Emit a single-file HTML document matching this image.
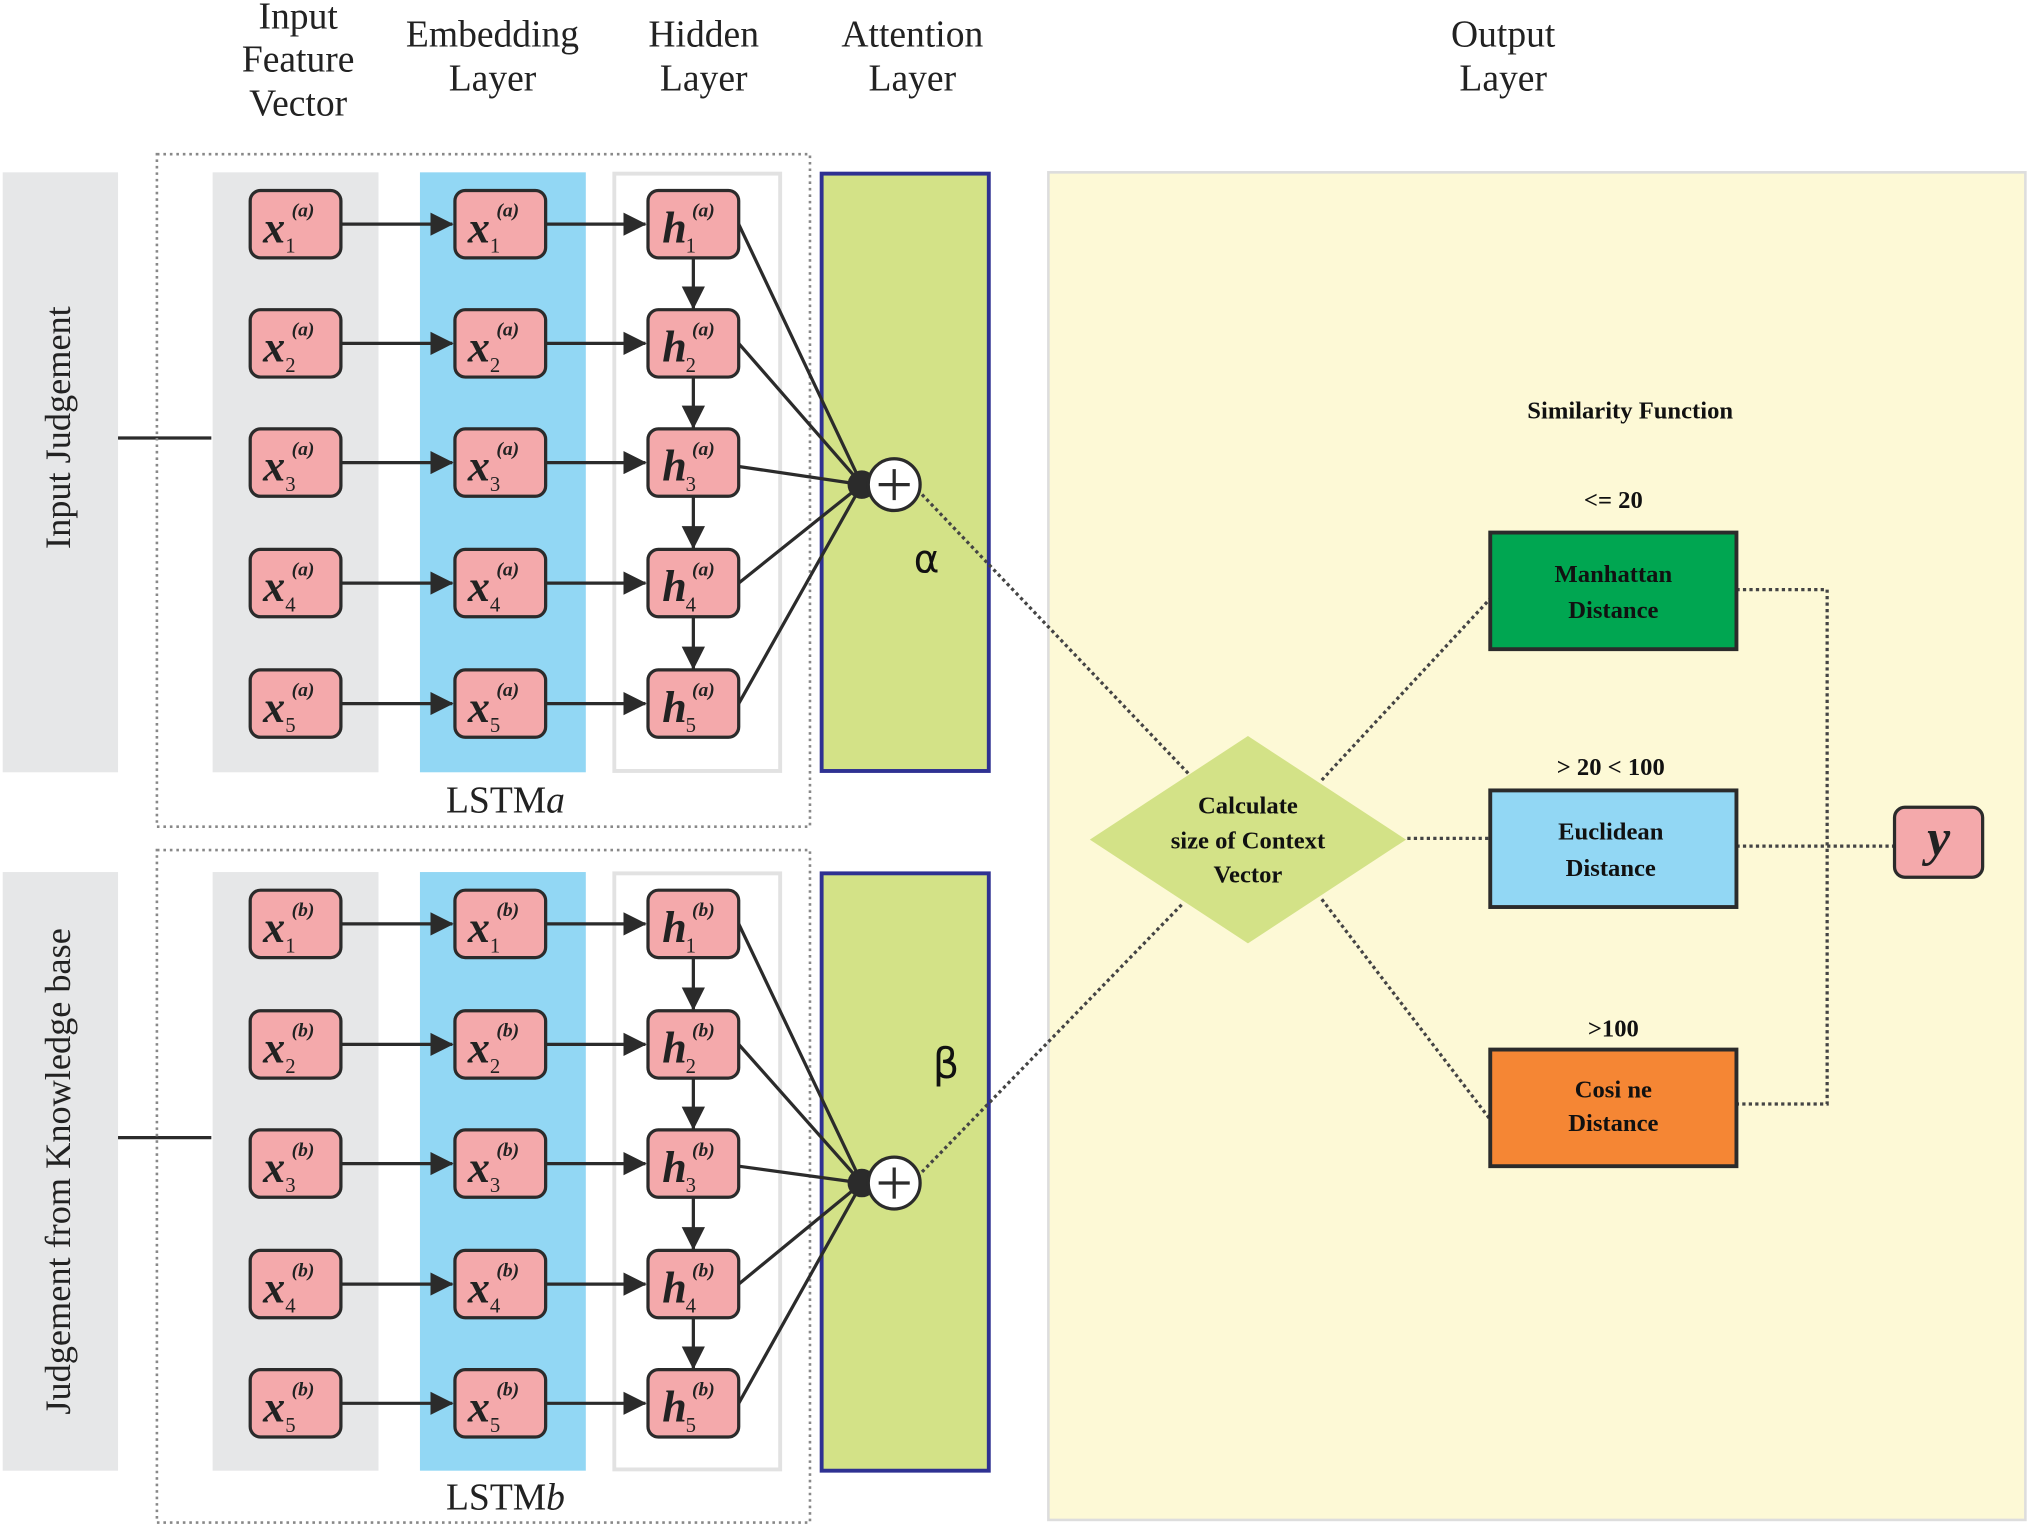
<!DOCTYPE html>
<html><head><meta charset="utf-8"><style>
html,body{margin:0;padding:0;background:#fff;}
svg{display:block;}
.h{font-family:"Liberation Serif",serif;font-size:29px;fill:#222;text-anchor:middle;}
.v{font-family:"Liberation Serif",serif;font-style:italic;font-weight:bold;font-size:34px;fill:#222;}
.s{font-family:"Liberation Serif",serif;font-size:16px;fill:#222;}
.p{font-family:"Liberation Serif",serif;font-style:italic;font-weight:bold;font-size:15px;fill:#222;}
.b{font-family:"Liberation Serif",serif;font-weight:bold;font-size:19px;fill:#111;text-anchor:middle;}
.bx{fill:#f4a9ab;stroke:#2b2b2b;stroke-width:2.5;}
.ln{stroke:#2b2b2b;stroke-width:2.5;fill:none;}
.dt{stroke:#444;stroke-width:2.5;stroke-dasharray:2.5 2.5;fill:none;}
.dd{stroke:#888;stroke-width:2;stroke-dasharray:2 3;fill:none;}
</style></head><body>
<svg width="2032" height="1529" viewBox="0 0 1568 1180" xmlns="http://www.w3.org/2000/svg">
<defs>
<marker id="ar" markerWidth="10" markerHeight="10" refX="9" refY="5" orient="auto" markerUnits="userSpaceOnUse" viewBox="0 0 10 10"><path d="M0,0 L10,5 L0,10 z" fill="#2b2b2b"/></marker>
<marker id="ar2" markerWidth="18" markerHeight="18" refX="17" refY="9" orient="auto" markerUnits="userSpaceOnUse" viewBox="0 0 18 18"><path d="M0,0 L18,9 L0,18 z" fill="#2b2b2b"/></marker>
</defs>
<!-- headers -->
<text class="h" x="230" y="22">Input</text>
<text class="h" x="230" y="55">Feature</text>
<text class="h" x="230" y="89">Vector</text>
<text class="h" x="380" y="36">Embedding</text>
<text class="h" x="380" y="70">Layer</text>
<text class="h" x="543" y="36">Hidden</text>
<text class="h" x="543" y="70">Layer</text>
<text class="h" x="704" y="36">Attention</text>
<text class="h" x="704" y="70">Layer</text>
<text class="h" x="1160" y="36">Output</text>
<text class="h" x="1160" y="70">Layer</text>

<!-- output region -->
<rect x="809" y="133" width="754" height="1040" fill="#fdf9d6" stroke="#ddd" stroke-width="2"/>

<!-- top block -->
<rect x="2" y="133" width="89" height="463" fill="#e6e7e8"/>
<text class="h" transform="translate(54,330) rotate(-90)" style="font-size:28px">Input Judgement</text>
<line x1="91" y1="338" x2="163" y2="338" class="ln"/>
<rect x="121" y="119" width="504" height="519" class="dd"/>
<rect x="164" y="133" width="128" height="463" fill="#e6e7e8"/>
<rect x="324" y="133" width="128" height="463" fill="#92d7f4"/>
<rect x="474" y="134" width="128" height="461" fill="#fff" stroke="#e2e2e2" stroke-width="3"/>
<rect x="634" y="134" width="129" height="461" fill="#d3e287" stroke="#2e3192" stroke-width="3"/>
<text class="h" x="390" y="627">LSTM<tspan font-style="italic">a</tspan></text>

<!-- bottom block -->
<rect x="2" y="673" width="89" height="462" fill="#e6e7e8"/>
<text class="h" transform="translate(54,904) rotate(-90)" style="font-size:28px">Judgement from Knowledge base</text>
<line x1="91" y1="878" x2="163" y2="878" class="ln"/>
<rect x="121" y="656" width="504" height="519" class="dd"/>
<rect x="164" y="673" width="128" height="462" fill="#e6e7e8"/>
<rect x="324" y="673" width="128" height="462" fill="#92d7f4"/>
<rect x="474" y="674" width="128" height="460" fill="#fff" stroke="#e2e2e2" stroke-width="3"/>
<rect x="634" y="674" width="129" height="461" fill="#d3e287" stroke="#2e3192" stroke-width="3"/>
<text class="h" x="390" y="1165">LSTM<tspan font-style="italic">b</tspan></text>

<!-- connectors top -->
<g>
<line x1="263" y1="173" x2="349" y2="173" class="ln" marker-end="url(#ar2)"/>
<line x1="420" y1="173" x2="498" y2="173" class="ln" marker-end="url(#ar2)"/>
<line x1="263" y1="265" x2="349" y2="265" class="ln" marker-end="url(#ar2)"/>
<line x1="420" y1="265" x2="498" y2="265" class="ln" marker-end="url(#ar2)"/>
<line x1="263" y1="357" x2="349" y2="357" class="ln" marker-end="url(#ar2)"/>
<line x1="420" y1="357" x2="498" y2="357" class="ln" marker-end="url(#ar2)"/>
<line x1="263" y1="450" x2="349" y2="450" class="ln" marker-end="url(#ar2)"/>
<line x1="420" y1="450" x2="498" y2="450" class="ln" marker-end="url(#ar2)"/>
<line x1="263" y1="543" x2="349" y2="543" class="ln" marker-end="url(#ar2)"/>
<line x1="420" y1="543" x2="498" y2="543" class="ln" marker-end="url(#ar2)"/>
<line x1="535" y1="199" x2="535" y2="238" class="ln" marker-end="url(#ar2)"/>
<line x1="535" y1="291" x2="535" y2="330" class="ln" marker-end="url(#ar2)"/>
<line x1="535" y1="383" x2="535" y2="423" class="ln" marker-end="url(#ar2)"/>
<line x1="535" y1="476" x2="535" y2="516" class="ln" marker-end="url(#ar2)"/>
<line x1="570" y1="173" x2="665" y2="374" class="ln"/>
<line x1="570" y1="265" x2="665" y2="374" class="ln"/>
<line x1="570" y1="360" x2="665" y2="374" class="ln"/>
<line x1="570" y1="450" x2="665" y2="374" class="ln"/>
<line x1="570" y1="543" x2="665" y2="374" class="ln"/>
</g>
<!-- connectors bottom -->
<g>
<line x1="263" y1="713" x2="349" y2="713" class="ln" marker-end="url(#ar2)"/>
<line x1="420" y1="713" x2="498" y2="713" class="ln" marker-end="url(#ar2)"/>
<line x1="263" y1="806" x2="349" y2="806" class="ln" marker-end="url(#ar2)"/>
<line x1="420" y1="806" x2="498" y2="806" class="ln" marker-end="url(#ar2)"/>
<line x1="263" y1="898" x2="349" y2="898" class="ln" marker-end="url(#ar2)"/>
<line x1="420" y1="898" x2="498" y2="898" class="ln" marker-end="url(#ar2)"/>
<line x1="263" y1="991" x2="349" y2="991" class="ln" marker-end="url(#ar2)"/>
<line x1="420" y1="991" x2="498" y2="991" class="ln" marker-end="url(#ar2)"/>
<line x1="263" y1="1083" x2="349" y2="1083" class="ln" marker-end="url(#ar2)"/>
<line x1="420" y1="1083" x2="498" y2="1083" class="ln" marker-end="url(#ar2)"/>
<line x1="535" y1="739" x2="535" y2="779" class="ln" marker-end="url(#ar2)"/>
<line x1="535" y1="832" x2="535" y2="871" class="ln" marker-end="url(#ar2)"/>
<line x1="535" y1="924" x2="535" y2="964" class="ln" marker-end="url(#ar2)"/>
<line x1="535" y1="1017" x2="535" y2="1056" class="ln" marker-end="url(#ar2)"/>
<line x1="570" y1="713" x2="665" y2="913" class="ln"/>
<line x1="570" y1="806" x2="665" y2="913" class="ln"/>
<line x1="570" y1="900" x2="665" y2="913" class="ln"/>
<line x1="570" y1="991" x2="665" y2="913" class="ln"/>
<line x1="570" y1="1083" x2="665" y2="913" class="ln"/>
</g>

<!-- boxes top -->
<g id="boxes">
<g transform="translate(193,173)"><rect class="bx" x="0" y="-26" width="70" height="52" rx="8"/><text class="v" x="10" y="14">x</text><text class="s" x="27" y="22">1</text><text class="p" x="32" y="-6">(a)</text></g>
<g transform="translate(351,173)"><rect class="bx" x="0" y="-26" width="70" height="52" rx="8"/><text class="v" x="10" y="14">x</text><text class="s" x="27" y="22">1</text><text class="p" x="32" y="-6">(a)</text></g>
<g transform="translate(500,173)"><rect class="bx" x="0" y="-26" width="70" height="52" rx="8"/><text class="v" x="11" y="14">h</text><text class="s" x="29" y="22">1</text><text class="p" x="34" y="-6">(a)</text></g>
<g transform="translate(193,265)"><rect class="bx" x="0" y="-26" width="70" height="52" rx="8"/><text class="v" x="10" y="14">x</text><text class="s" x="27" y="22">2</text><text class="p" x="32" y="-6">(a)</text></g>
<g transform="translate(351,265)"><rect class="bx" x="0" y="-26" width="70" height="52" rx="8"/><text class="v" x="10" y="14">x</text><text class="s" x="27" y="22">2</text><text class="p" x="32" y="-6">(a)</text></g>
<g transform="translate(500,265)"><rect class="bx" x="0" y="-26" width="70" height="52" rx="8"/><text class="v" x="11" y="14">h</text><text class="s" x="29" y="22">2</text><text class="p" x="34" y="-6">(a)</text></g>
<g transform="translate(193,357)"><rect class="bx" x="0" y="-26" width="70" height="52" rx="8"/><text class="v" x="10" y="14">x</text><text class="s" x="27" y="22">3</text><text class="p" x="32" y="-6">(a)</text></g>
<g transform="translate(351,357)"><rect class="bx" x="0" y="-26" width="70" height="52" rx="8"/><text class="v" x="10" y="14">x</text><text class="s" x="27" y="22">3</text><text class="p" x="32" y="-6">(a)</text></g>
<g transform="translate(500,357)"><rect class="bx" x="0" y="-26" width="70" height="52" rx="8"/><text class="v" x="11" y="14">h</text><text class="s" x="29" y="22">3</text><text class="p" x="34" y="-6">(a)</text></g>
<g transform="translate(193,450)"><rect class="bx" x="0" y="-26" width="70" height="52" rx="8"/><text class="v" x="10" y="14">x</text><text class="s" x="27" y="22">4</text><text class="p" x="32" y="-6">(a)</text></g>
<g transform="translate(351,450)"><rect class="bx" x="0" y="-26" width="70" height="52" rx="8"/><text class="v" x="10" y="14">x</text><text class="s" x="27" y="22">4</text><text class="p" x="32" y="-6">(a)</text></g>
<g transform="translate(500,450)"><rect class="bx" x="0" y="-26" width="70" height="52" rx="8"/><text class="v" x="11" y="14">h</text><text class="s" x="29" y="22">4</text><text class="p" x="34" y="-6">(a)</text></g>
<g transform="translate(193,543)"><rect class="bx" x="0" y="-26" width="70" height="52" rx="8"/><text class="v" x="10" y="14">x</text><text class="s" x="27" y="22">5</text><text class="p" x="32" y="-6">(a)</text></g>
<g transform="translate(351,543)"><rect class="bx" x="0" y="-26" width="70" height="52" rx="8"/><text class="v" x="10" y="14">x</text><text class="s" x="27" y="22">5</text><text class="p" x="32" y="-6">(a)</text></g>
<g transform="translate(500,543)"><rect class="bx" x="0" y="-26" width="70" height="52" rx="8"/><text class="v" x="11" y="14">h</text><text class="s" x="29" y="22">5</text><text class="p" x="34" y="-6">(a)</text></g>
</g>
<!-- boxes bottom -->
<g>
<g transform="translate(193,713)"><rect class="bx" x="0" y="-26" width="70" height="52" rx="8"/><text class="v" x="10" y="14">x</text><text class="s" x="27" y="22">1</text><text class="p" x="32" y="-6">(b)</text></g>
<g transform="translate(351,713)"><rect class="bx" x="0" y="-26" width="70" height="52" rx="8"/><text class="v" x="10" y="14">x</text><text class="s" x="27" y="22">1</text><text class="p" x="32" y="-6">(b)</text></g>
<g transform="translate(500,713)"><rect class="bx" x="0" y="-26" width="70" height="52" rx="8"/><text class="v" x="11" y="14">h</text><text class="s" x="29" y="22">1</text><text class="p" x="34" y="-6">(b)</text></g>
<g transform="translate(193,806)"><rect class="bx" x="0" y="-26" width="70" height="52" rx="8"/><text class="v" x="10" y="14">x</text><text class="s" x="27" y="22">2</text><text class="p" x="32" y="-6">(b)</text></g>
<g transform="translate(351,806)"><rect class="bx" x="0" y="-26" width="70" height="52" rx="8"/><text class="v" x="10" y="14">x</text><text class="s" x="27" y="22">2</text><text class="p" x="32" y="-6">(b)</text></g>
<g transform="translate(500,806)"><rect class="bx" x="0" y="-26" width="70" height="52" rx="8"/><text class="v" x="11" y="14">h</text><text class="s" x="29" y="22">2</text><text class="p" x="34" y="-6">(b)</text></g>
<g transform="translate(193,898)"><rect class="bx" x="0" y="-26" width="70" height="52" rx="8"/><text class="v" x="10" y="14">x</text><text class="s" x="27" y="22">3</text><text class="p" x="32" y="-6">(b)</text></g>
<g transform="translate(351,898)"><rect class="bx" x="0" y="-26" width="70" height="52" rx="8"/><text class="v" x="10" y="14">x</text><text class="s" x="27" y="22">3</text><text class="p" x="32" y="-6">(b)</text></g>
<g transform="translate(500,898)"><rect class="bx" x="0" y="-26" width="70" height="52" rx="8"/><text class="v" x="11" y="14">h</text><text class="s" x="29" y="22">3</text><text class="p" x="34" y="-6">(b)</text></g>
<g transform="translate(193,991)"><rect class="bx" x="0" y="-26" width="70" height="52" rx="8"/><text class="v" x="10" y="14">x</text><text class="s" x="27" y="22">4</text><text class="p" x="32" y="-6">(b)</text></g>
<g transform="translate(351,991)"><rect class="bx" x="0" y="-26" width="70" height="52" rx="8"/><text class="v" x="10" y="14">x</text><text class="s" x="27" y="22">4</text><text class="p" x="32" y="-6">(b)</text></g>
<g transform="translate(500,991)"><rect class="bx" x="0" y="-26" width="70" height="52" rx="8"/><text class="v" x="11" y="14">h</text><text class="s" x="29" y="22">4</text><text class="p" x="34" y="-6">(b)</text></g>
<g transform="translate(193,1083)"><rect class="bx" x="0" y="-26" width="70" height="52" rx="8"/><text class="v" x="10" y="14">x</text><text class="s" x="27" y="22">5</text><text class="p" x="32" y="-6">(b)</text></g>
<g transform="translate(351,1083)"><rect class="bx" x="0" y="-26" width="70" height="52" rx="8"/><text class="v" x="10" y="14">x</text><text class="s" x="27" y="22">5</text><text class="p" x="32" y="-6">(b)</text></g>
<g transform="translate(500,1083)"><rect class="bx" x="0" y="-26" width="70" height="52" rx="8"/><text class="v" x="11" y="14">h</text><text class="s" x="29" y="22">5</text><text class="p" x="34" y="-6">(b)</text></g>
</g>

<!-- dotted connectors to diamond -->
<line x1="708" y1="378" x2="918" y2="598" class="dt"/>
<line x1="708" y1="908" x2="912" y2="698" class="dt"/>
<line x1="1020" y1="602" x2="1150" y2="462" class="dt"/>
<line x1="1086" y1="647" x2="1150" y2="647" class="dt"/>
<line x1="1020" y1="694" x2="1150" y2="864" class="dt"/>
<polyline points="1340,455 1410,455 1410,852 1340,852" class="dt"/>
<line x1="1340" y1="653" x2="1462" y2="653" class="dt"/>

<!-- sum nodes -->
<circle cx="665" cy="374" r="11" fill="#2b2b2b"/>
<circle cx="690" cy="374" r="20" fill="#fff" stroke="#2b2b2b" stroke-width="2.5"/>
<path d="M678,374 H702 M690,362 V386" stroke="#2b2b2b" stroke-width="2.5"/>
<text x="715" y="442" style="font-family:'DejaVu Sans',sans-serif;font-size:30px;fill:#111" text-anchor="middle">α</text>
<circle cx="665" cy="913" r="11" fill="#2b2b2b"/>
<circle cx="690" cy="913" r="20" fill="#fff" stroke="#2b2b2b" stroke-width="2.5"/>
<path d="M678,913 H702 M690,901 V925" stroke="#2b2b2b" stroke-width="2.5"/>
<text x="730" y="832" style="font-family:'DejaVu Sans',sans-serif;font-size:32px;fill:#111" text-anchor="middle">β</text>

<!-- diamond -->
<polygon points="963,568 1085,648 963,728 841,648" fill="#d3e287"/>
<text class="b" x="963" y="628">Calculate</text>
<text class="b" x="963" y="655">size of Context</text>
<text class="b" x="963" y="681">Vector</text>

<text class="b" x="1258" y="323">Similarity Function</text>
<text class="b" x="1245" y="392">&lt;= 20</text>
<text class="b" x="1243" y="598">&gt; 20 &lt; 100</text>
<text class="b" x="1245" y="800">&gt;100</text>

<rect x="1150" y="411" width="190" height="90" fill="#00a651" stroke="#2b2b2b" stroke-width="3"/>
<text class="b" x="1245" y="449">Manhattan</text>
<text class="b" x="1245" y="477">Distance</text>
<rect x="1150" y="610" width="190" height="90" fill="#92d7f4" stroke="#2b2b2b" stroke-width="3"/>
<text class="b" x="1243" y="648">Euclidean</text>
<text class="b" x="1243" y="676">Distance</text>
<rect x="1150" y="810" width="190" height="90" fill="#f58634" stroke="#2b2b2b" stroke-width="3"/>
<text class="b" x="1245" y="847">Cosi ne</text>
<text class="b" x="1245" y="873">Distance</text>

<rect x="1462" y="623" width="68" height="54" rx="8" class="bx"/>
<text class="v" x="1496" y="660" text-anchor="middle" style="font-size:40px">y</text>
</svg>
</body></html>
